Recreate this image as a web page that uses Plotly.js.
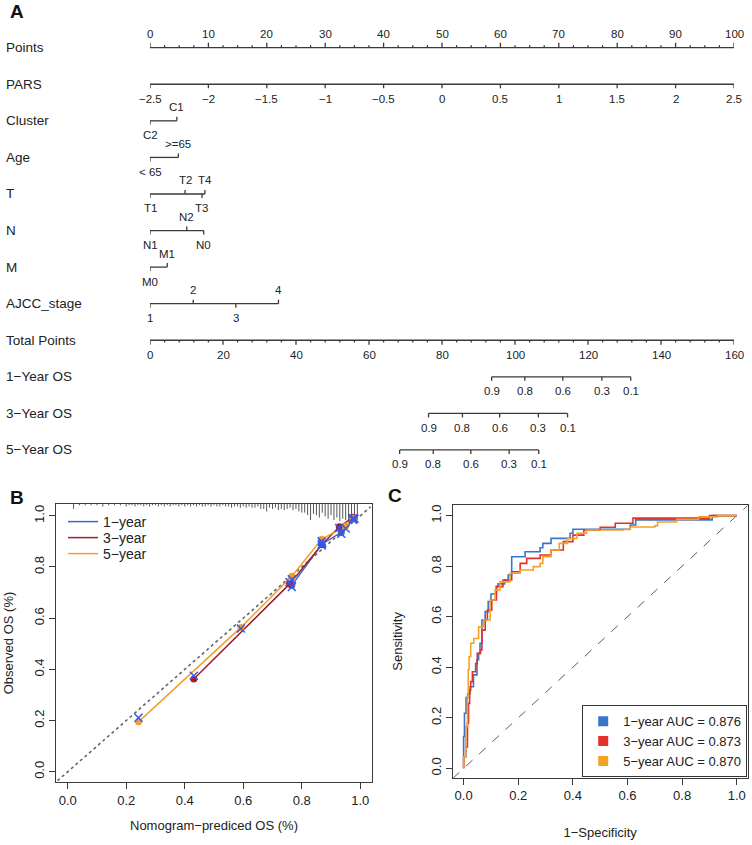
<!DOCTYPE html>
<html><head><meta charset="utf-8">
<script src="https://cdn.plot.ly/plotly-3.0.1.min.js"></script>
<style>body{margin:0;background:#fff}#chart{width:752px;height:845px}</style>
</head><body><div id="chart"></div>
<script>
// ================= Panel A : nomogram =================
const rowNames = ['Points','PARS','Cluster','Age','T','N','M','AJCC_stage','Total Points','1\u2212Year OS','3\u2212Year OS','5\u2212Year OS'];
const pointsTicks = [0,10,20,30,40,50,60,70,80,90,100];
const pointsMinorStep = 2.5;
const parsTicks = [-2.5,-2,-1.5,-1,-0.5,0,0.5,1,1.5,2,2.5];
const parsRange = [-2.5, 2.5];          // PARS range spanning 0..100 points
const clusterLevels = ['C2','C1'];      const clusterPoints = [0, 4.6];
const ageLevels = ['< 65','>=65'];      const agePoints = [0, 4.85];
const tLevels = ['T1','T2','T3','T4'];  const tPoints = [0, 6.0, 8.9, 9.4];
const nLevels = ['N1','N2','N0'];       const nPoints = [0, 6.3, 9.2];
const mLevels = ['M0','M1'];            const mPoints = [0, 2.95];
const ajccLevels = ['1','2','3','4'];   const ajccPoints = [0, 7.4, 14.7, 22.0];
const totalTicks = [0,20,40,60,80,100,120,140,160];
const totalMinorStep = 4;
const osLabels = ['0.9','0.8','0.6','0.3','0.1'];
const os1Total = [93.6, 102.7, 113.1, 123.8, 131.7];
const os3Total = [76.3, 85.6, 95.8, 106.4, 114.4];
const os5Total = [68.4, 77.6, 87.9, 98.4, 106.5];

// ================= Panel B : calibration =================
const cal1Pred = [0.766, 0.868, 0.935, 0.980];
const cal1Obs  = [0.728, 0.889, 0.935, 0.990];
const cal1Bc   = [0.722, 0.884, 0.930, 0.988];
const cal3Pred = [0.431, 0.758, 0.869, 0.928, 0.975];
const cal3Obs  = [0.362, 0.733, 0.888, 0.957, 0.994];
const cal3Bc   = [0.375, 0.740, 0.890, 0.952, 0.990];
const cal5Pred = [0.242, 0.592, 0.766, 0.868, 0.950, 0.975];
const cal5Obs  = [0.195, 0.564, 0.764, 0.908, 0.960, 0.990];
const cal5Bc   = [0.211, 0.560, 0.752, 0.900, 0.950, 0.985];
const idealLine = [-0.035, 1.035];
const rugX = [0.02,0.04,0.06,0.08,0.10,0.12,0.14,0.16,0.18,
  0.20,0.21,0.22,0.23,0.24,0.25,0.26,0.27,0.28,0.29,
  0.30,0.31,0.32,0.33,0.34,0.35,0.36,0.37,0.38,0.39,
  0.40,0.41,0.42,0.43,0.44,0.45,0.46,0.47,0.48,0.49,
  0.50,0.51,0.52,0.53,0.54,0.55,0.56,0.57,0.58,0.59,
  0.60,0.61,0.62,0.63,0.64,0.65,0.66,0.67,0.68,0.69,
  0.70,0.71,0.72,0.73,0.74,0.75,0.76,0.77,0.78,0.79,
  0.80,0.81,0.82,0.83,0.84,0.85,0.86,0.87,0.88,0.89,
  0.90,0.91,0.92,0.93,0.94,0.95,0.96,0.97,0.98,0.99];
const rugN = [4,1,1,1,1,2,1,1,1,
  2,1,1,2,1,1,2,1,2,1,
  1,2,1,2,1,2,1,1,2,1,
  2,1,2,1,2,1,2,2,1,2,
  1,2,2,1,2,2,3,2,2,3,
  2,3,2,3,3,2,4,4,6,3,
  4,3,5,4,5,4,3,5,4,6,
  7,7,9,13,8,9,11,7,10,12,
  9,13,11,14,12,13,14,12,13,9];
const calNames = ['1\u2212year','3\u2212year','5\u2212year'];

// ================= Panel C : ROC =================
const roc1Fpr  = [0,0,0,0.003,0.009,0.015,0.024,0.036,0.049,0.055,0.06,0.067,0.067,0.079,0.09,0.10,0.12,0.126,0.15,0.163,0.175,0.176,0.225,0.28,0.29,0.32,0.39,0.40,0.61,0.63,0.91,1];
const roc1Sens = [0,0.05,0.126,0.218,0.28,0.296,0.323,0.37,0.43,0.455,0.495,0.55,0.587,0.62,0.66,0.69,0.72,0.73,0.745,0.765,0.77,0.837,0.857,0.873,0.89,0.91,0.93,0.946,0.963,0.983,1,1];
const roc3Fpr  = [0,0,0.008,0.014,0.018,0.022,0.026,0.032,0.044,0.05,0.062,0.067,0.079,0.087,0.103,0.12,0.144,0.176,0.207,0.231,0.28,0.32,0.365,0.40,0.44,0.50,0.555,0.62,0.90,1];
const roc3Sens = [0,0.046,0.085,0.178,0.257,0.31,0.343,0.382,0.415,0.455,0.468,0.547,0.587,0.626,0.666,0.719,0.745,0.778,0.811,0.831,0.844,0.864,0.897,0.923,0.943,0.954,0.97,0.99,1,1];
const roc5Fpr  = [0,0,0.008,0.014,0.017,0.02,0.026,0.026,0.037,0.055,0.073,0.097,0.115,0.133,0.17,0.207,0.255,0.28,0.29,0.32,0.35,0.38,0.415,0.45,0.585,0.61,0.70,0.71,0.78,0.86,0.93,1];
const roc5Sens = [0,0.046,0.166,0.284,0.39,0.442,0.468,0.495,0.514,0.56,0.587,0.666,0.706,0.738,0.772,0.785,0.798,0.811,0.837,0.864,0.89,0.91,0.93,0.943,0.945,0.955,0.96,0.975,0.985,0.995,1,1];
const rocYears = ['1\u2212year','3\u2212year','5\u2212year'];
const aucValues = [0.876, 0.873, 0.870];
const rocDiag = [-0.04, 1.04];

// ================= styling / layout helpers =================
const FONT = 'Liberation Sans, Arial, Helvetica, sans-serif';
const TXT = '#222';
const AX = '#3a3a3a';
const W = 752, H = 845;
const px = v => v / W;
const py = v => 1 - v / H;
const ROWPX = 36.57;            // pixels per nomogram row
const row0 = 47.7;              // pixel y of first row
const yTop = 5, yBot = 480;
const yRange = [(yBot - row0) / ROWPX, (yTop - row0) / ROWPX];
const L = p => p / ROWPX;       // px to row units

const traces = [];
const annotations = [];

function fmtNum(v){ return String(v).replace('-', '\u2212'); }

function rowTrace(xs, r, dirs, lens, xaxis, width){
  const x = [], y = [];
  const mn = Math.min(...xs), mx = Math.max(...xs);
  x.push(mn, mx, null); y.push(r, r, null);
  xs.forEach((v,i)=>{ x.push(v, v, null); y.push(r, r + dirs[i]*L(lens[i]), null); });
  traces.push({type:'scatter', mode:'lines', x, y, xaxis, yaxis:'y3',
    line:{color:AX, width: width || 1.3}, showlegend:false, hoverinfo:'skip'});
}
function rowLabels(xs, labels, r, dirs, xaxis, size){
  xs.forEach((v,i)=>{
    annotations.push({xref:xaxis, yref:'y3', x:v, y:r, text:labels[i], showarrow:false,
      xanchor:'center', yanchor:'middle', yshift: dirs[i] < 0 ? 13.5 : -14.5,
      font:{family:FONT, size:size||11.5, color:TXT}});
  });
}
rowNames.forEach((name, r)=>{
  annotations.push({xref:'paper', yref:'y3', x:px(4), y:r, text:name, showarrow:false,
    xanchor:'left', yanchor:'middle', font:{family:FONT, size:13.5, color:TXT}});
});

// Points row
{
  const minor = [];
  for (let v = 0; v <= 100 + 1e-9; v += pointsMinorStep) if (Math.abs(v/10 - Math.round(v/10)) > 1e-6) minor.push(v);
  const all = pointsTicks.concat(minor);
  rowTrace(all, 0, all.map(()=>-1), all.map((v,i)=> i < pointsTicks.length ? 5 : 2.5), 'x3');
  rowLabels(pointsTicks, pointsTicks.map(String), 0, pointsTicks.map(()=>-1), 'x3');
}
// PARS row
{
  const pts = parsTicks.map(v => (v - parsRange[0]) / (parsRange[1] - parsRange[0]) * 100);
  rowTrace(pts, 1, pts.map(()=>1), pts.map(()=>4), 'x3');
  rowLabels(pts, parsTicks.map(fmtNum), 1, pts.map(()=>1), 'x3');
}
// categorical rows, labels alternate below / above
const catRows = [[clusterPoints, clusterLevels, 2],[agePoints, ageLevels, 3],[tPoints, tLevels, 4],
                 [nPoints, nLevels, 5],[mPoints, mLevels, 6],[ajccPoints, ajccLevels, 7]];
catRows.forEach(([pts, labs, r])=>{
  const dirs = pts.map((v,i)=> i % 2 === 0 ? 1 : -1);
  rowTrace(pts, r, dirs, pts.map(()=>4), 'x3');
  rowLabels(pts, labs, r, dirs, 'x3');
});
// Total points row
{
  const minor = [];
  for (let v = 0; v <= 160 + 1e-9; v += totalMinorStep) if (v % 20 !== 0) minor.push(v);
  const all = totalTicks.concat(minor);
  rowTrace(all, 8, all.map(()=>1), all.map((v,i)=> i < totalTicks.length ? 4.5 : 2.2), 'x4');
  rowLabels(totalTicks, totalTicks.map(String), 8, totalTicks.map(()=>1), 'x4');
}
// survival probability rows
[[os1Total, 9],[os3Total, 10],[os5Total, 11]].forEach(([pts, r])=>{
  rowTrace(pts, r, pts.map(()=>1), pts.map(()=>4), 'x4');
  rowLabels(pts, osLabels, r, pts.map(()=>1), 'x4');
});

// ================= Panel B traces =================
const calColors = ['#3d6cb4', '#a51c2a', '#f0a02a'];
const bcColor = '#3a55e8';
traces.push({type:'scatter', mode:'lines', x:idealLine, y:idealLine, xaxis:'x', yaxis:'y',
  line:{color:'#666', width:1.6, dash:'dot'}, showlegend:false, hoverinfo:'skip'});
{
  const x = [], y = [];
  const top = 1.046;
  rugX.forEach((v,i)=>{ x.push(v, v, null); y.push(top, top - rugN[i]*0.0048, null); });
  traces.push({type:'scatter', mode:'lines', x, y, xaxis:'x', yaxis:'y',
    line:{color:'#555', width:1}, showlegend:false, hoverinfo:'skip'});
}
const calSets = [[cal1Pred, cal1Obs, cal1Bc],[cal3Pred, cal3Obs, cal3Bc],[cal5Pred, cal5Obs, cal5Bc]];
const calLegends = ['legend', 'legend3', 'legend4'];
calSets.forEach(([p,o],k)=>{
  traces.push({type:'scatter', mode:'lines', x:p, y:o, xaxis:'x', yaxis:'y', name:calNames[k],
    line:{color:calColors[k], width:1.5}, legend:calLegends[k], hoverinfo:'skip'});
});
calSets.forEach(([p,o],k)=>{
  traces.push({type:'scatter', mode:'markers', x:p, y:o, xaxis:'x', yaxis:'y',
    marker:{color:calColors[k], size:7, symbol:'circle'}, showlegend:false, hoverinfo:'skip'});
});
calSets.forEach(([p,o,b],k)=>{
  traces.push({type:'scatter', mode:'markers', x:p, y:b, xaxis:'x', yaxis:'y',
    marker:{color:bcColor, size:8, symbol:'x-thin', line:{color:bcColor, width:1.5}}, showlegend:false, hoverinfo:'skip'});
});

// ================= Panel C traces =================
const rocColors = ['#3a76c8', '#e4312b', '#f2a226'];
traces.push({type:'scatter', mode:'lines', x:rocDiag, y:rocDiag, xaxis:'x2', yaxis:'y2',
  line:{color:'#333', width:0.8, dash:'dash'}, showlegend:false, hoverinfo:'skip'});
[[roc1Fpr, roc1Sens],[roc3Fpr, roc3Sens],[roc5Fpr, roc5Sens]].forEach(([f,s],k)=>{
  traces.push({type:'scatter', mode:'lines', x:f, y:s, xaxis:'x2', yaxis:'y2',
    line:{color:rocColors[k], width:1.6, shape:'hv'}, showlegend:false, hoverinfo:'skip'});
});
rocYears.forEach((yr,k)=>{
  traces.push({type:'scatter', mode:'markers', x:[null], y:[null], xaxis:'x2', yaxis:'y2',
    name: yr + ' AUC = ' + aucValues[k].toFixed(3), legend:'legend2',
    marker:{color:rocColors[k], size:10, symbol:'square'}, hoverinfo:'skip'});
});

// ================= panel letters =================
[['A', 8, 12], ['B', 8, 497], ['C', 386, 495]].forEach(([t,x,y])=>{
  annotations.push({xref:'paper', yref:'paper', x:px(x), y:py(y), text:'<b>'+t+'</b>', showarrow:false,
    xanchor:'left', yanchor:'middle', font:{family:FONT, size:19, color:'#111'}});
});

const baseAxis = {showgrid:false, zeroline:false, showline:true, mirror:true, linecolor:AX, linewidth:1,
  ticks:'outside', ticklen:6, tickcolor:AX, tickfont:{family:FONT, size:13, color:TXT},
  tickvals:[0,0.2,0.4,0.6,0.8,1], tickformat:'.1f'};

const calLegend = (yc) => ({x:px(63), y:py(yc), xanchor:'left', yanchor:'middle', bgcolor:'rgba(0,0,0,0)',
  borderwidth:0, font:{family:FONT, size:14, color:TXT}, itemwidth:30});

const layout = {
  width:W, height:H, margin:{l:0, r:0, t:0, b:0}, paper_bgcolor:'#fff', plot_bgcolor:'rgba(0,0,0,0)',
  font:{family:FONT, color:TXT},
  xaxis3:{domain:[px(150), px(734)], range:[0,100], visible:false, anchor:'y3', fixedrange:true},
  xaxis4:{domain:[px(150), px(734)], range:[0,160], visible:false, anchor:'y3', overlaying:'x3', fixedrange:true},
  yaxis3:{domain:[py(yBot), py(yTop)], range:yRange, visible:false, anchor:'x3', fixedrange:true},
  xaxis: Object.assign({}, baseAxis, {domain:[px(56), px(372)], range:[-0.04, 1.04], anchor:'y',
    title:{text:'Nomogram\u2212prediced OS (%)', font:{family:FONT, size:13, color:TXT}, standoff:14}}),
  yaxis: Object.assign({}, baseAxis, {domain:[py(782), py(504)], range:[-0.04, 1.046], anchor:'x', tickangle:-90,
    title:{text:'Observed OS (%)', font:{family:FONT, size:13, color:TXT}, standoff:15}}),
  xaxis2: Object.assign({}, baseAxis, {domain:[px(452.7), px(747.7)], range:[-0.04, 1.04], anchor:'y2',
    title:{text:'1\u2212Specificity', font:{family:FONT, size:13, color:TXT}, standoff:25}}),
  yaxis2: Object.assign({}, baseAxis, {domain:[py(777.7), py(505)], range:[-0.037, 1.042], anchor:'x2', tickangle:-90,
    title:{text:'Sensitivity', font:{family:FONT, size:13, color:TXT}, standoff:22}}),
  showlegend:true,
  legend: calLegend(522),
  legend3: calLegend(538),
  legend4: calLegend(554),
  legend2:{x:px(747.2), y:py(777.2), xanchor:'right', yanchor:'bottom', bgcolor:'#fff', bordercolor:'#333', borderwidth:1,
    font:{family:FONT, size:13, color:TXT}, itemwidth:30, tracegroupgap:0},
  annotations
};

Plotly.newPlot('chart', traces, layout, {staticPlot:true, displayModeBar:false});
</script>
</body></html>
